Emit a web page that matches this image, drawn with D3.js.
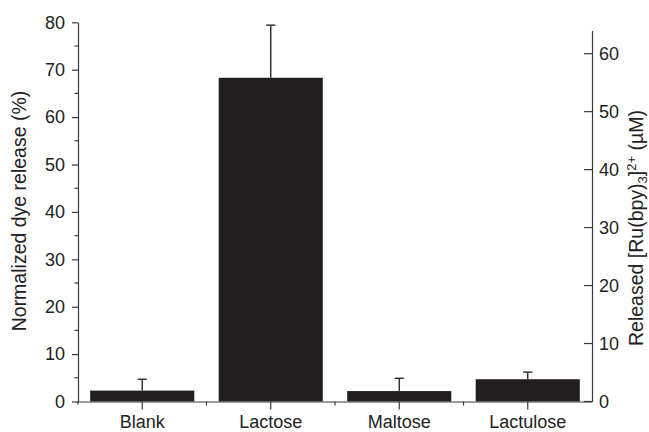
<!DOCTYPE html>
<html>
<head>
<meta charset="utf-8">
<script src="https://cdn.jsdelivr.net/npm/d3@7"></script>
<style>
  html, body { margin: 0; padding: 0; background: #fff; }
  svg { display: block; font-family: "Liberation Sans", Arial, Helvetica, sans-serif; }
</style>
</head>
<body>
<svg id="chart" width="649" height="432"></svg>
<script>
// Dye release per sugar (mean and standard deviation, %)
const categories = ["Blank", "Lactose", "Maltose", "Lactulose"];
const releaseMean = [2.3, 68.3, 2.2, 4.7];
const releaseErr  = [2.4, 11.1, 2.7, 1.5];

// Axis ticks
const leftTicks  = [0, 10, 20, 30, 40, 50, 60, 70, 80];
const leftMinor  = [5, 15, 25, 35, 45, 55, 65, 75];
const rightTicks = [0, 10, 20, 30, 40, 50, 60];

const svg = d3.select("#chart");
const ink = "#231f20";
const axisInk = "#3a3a3a";
const tickFont = 18;
const titleFont = 19.5;

const x0 = 78, x1 = 592, yBase = 401.5, yTop = 22.3;

const x = d3.scaleBand()
  .domain(categories)
  .range([x0, x1])
  .paddingInner(0.19)
  .paddingOuter(0.095);

const y = d3.scaleLinear().domain([0, 80]).range([yBase, yTop]);
// Released concentration (µM) on the right-hand axis
const yR = d3.scaleLinear().domain([0, 64]).range([yBase, 30.5]);

// Bars
svg.append("g").selectAll("rect")
  .data(categories)
  .join("rect")
  .attr("x", d => x(d))
  .attr("width", x.bandwidth())
  .attr("y", (d, i) => y(releaseMean[i]))
  .attr("height", (d, i) => yBase - y(releaseMean[i]))
  .attr("fill", ink);

// Error bars (upper half)
const eb = svg.append("g").attr("class", "err").attr("stroke", "#2a2a2a").attr("stroke-width", 1.4);
categories.forEach((c, i) => {
  const cx = x(c) + x.bandwidth() / 2;
  const top = y(releaseMean[i] + releaseErr[i]);
  eb.append("line").attr("x1", cx).attr("x2", cx)
    .attr("y1", y(releaseMean[i])).attr("y2", top);
  eb.append("line").attr("x1", cx - 4.6).attr("x2", cx + 4.6)
    .attr("y1", top).attr("y2", top);
});

// Left axis
const gl = svg.append("g").attr("class", "ax").attr("transform", `translate(${x0},0)`);
gl.call(d3.axisLeft(y).tickValues(leftTicks).tickSize(6).tickPadding(7).tickSizeOuter(0));
gl.append("g").selectAll("line")
  .data(leftMinor)
  .join("line")
  .attr("x1", -3.5).attr("x2", 0)
  .attr("y1", d => y(d)).attr("y2", d => y(d));

// Right axis
const gr = svg.append("g").attr("class", "ax").attr("transform", `translate(${x1},0)`);
gr.call(d3.axisRight(yR).tickValues(rightTicks).tickSize(0).tickPadding(7).tickSizeOuter(0));
gr.append("g").selectAll("line")
  .data(rightTicks)
  .join("line")
  .attr("x1", -8).attr("x2", 0)
  .attr("y1", d => yR(d)).attr("y2", d => yR(d));

// Bottom axis
const gb = svg.append("g").attr("class", "ax").attr("transform", `translate(0,${yBase})`);
gb.call(d3.axisBottom(x).tickSize(8).tickPadding(5.5).tickSizeOuter(0));
gb.append("g").selectAll("line")
  .data(categories.slice(1))
  .join("line")
  .attr("x1", d => x(d) - x.step() * x.paddingInner() / 2)
  .attr("x2", d => x(d) - x.step() * x.paddingInner() / 2)
  .attr("y1", 0).attr("y2", 4);

// Left axis extends slightly below the baseline
svg.append("line").attr("class", "stub")
  .attr("x1", x0).attr("x2", x0)
  .attr("y1", yBase).attr("y2", yBase + 3);

svg.selectAll(".ax path, .ax line, line.stub")
  .attr("stroke", axisInk).attr("stroke-width", 1.2);
svg.selectAll(".ax").attr("font-size", tickFont)
  .attr("font-family", "'Liberation Sans', Arial, sans-serif");
svg.selectAll(".ax .tick text")
  .attr("font-size", tickFont).attr("fill", "#222");

// Axis titles
svg.append("text")
  .attr("transform", `translate(26,211) rotate(-90)`)
  .attr("text-anchor", "middle")
  .attr("font-size", titleFont).attr("fill", "#222")
  .text("Normalized dye release (%)");

const rt = svg.append("text")
  .attr("transform", `translate(643,228) rotate(-90)`)
  .attr("text-anchor", "middle")
  .attr("font-size", titleFont).attr("fill", "#222");
rt.append("tspan").text("Released [Ru(bpy)");
rt.append("tspan").attr("font-size", 13).attr("dy", 4).text("3");
rt.append("tspan").attr("dy", -4).text("]");
rt.append("tspan").attr("font-size", 13).attr("dy", -7).text("2+");
rt.append("tspan").attr("dy", 7).text(" (\u00b5M)");
</script>
</body>
</html>
